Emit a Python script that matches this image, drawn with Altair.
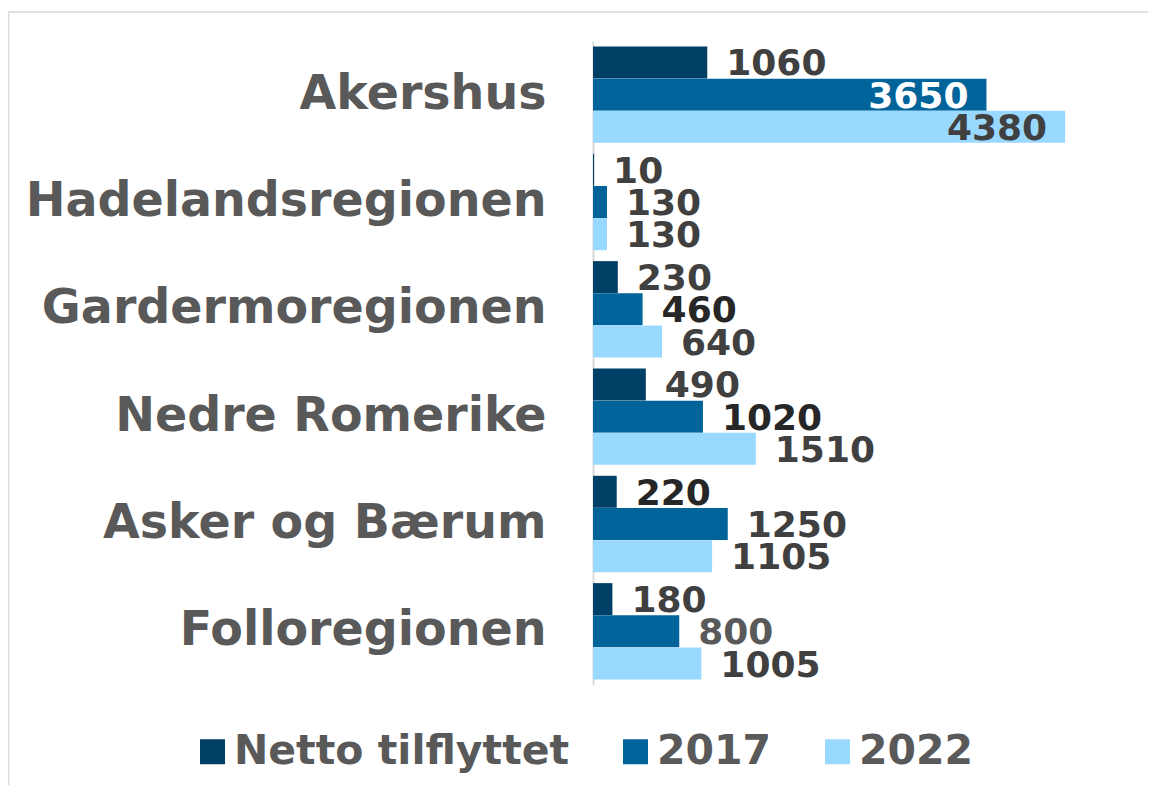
import altair as alt
import pandas as pd

categories = ["Akershus", "Hadelandsregionen", "Gardermoregionen",
              "Nedre Romerike", "Asker og Bærum", "Folloregionen"]
series = ["Netto tilflyttet", "2017", "2022"]
netto = [1060, 10, 230, 490, 220, 180]
y2017 = [3650, 130, 460, 1020, 1250, 800]
y2022 = [4380, 130, 640, 1510, 1105, 1005]

bar_colors = ["#003F66", "#00639A", "#99D9FF"]
label_colors = {
    "Netto tilflyttet": ["#404040", "#404040", "#404040", "#404040", "#262626", "#404040"],
    "2017": ["#FFFFFF", "#404040", "#262626", "#262626", "#404040", "#595959"],
    "2022": ["#404040", "#404040", "#404040", "#404040", "#404040", "#404040"],
}

rows = []
for s, vals in zip(series, [netto, y2017, y2022]):
    for c, v, lc in zip(categories, vals, label_colors[s]):
        rows.append({"region": c, "series": s, "value": v, "lc": lc})
df = pd.DataFrame(rows)

FONT = "DejaVu Sans"

y_enc = alt.Y("region:N", sort=categories,
              scale=alt.Scale(paddingInner=0.1, paddingOuter=0.05),
              axis=alt.Axis(title=None, ticks=False, labelFontSize=47.5, labelFont=FONT,
                            labelFontWeight="bold", labelColor="#595959",
                            labelPadding=47, labelLimit=1000,
                            domainColor="#D9D9D9", domainWidth=2))
yoff = alt.YOffset("series:N", sort=series)
x_enc = alt.X("value:Q", scale=alt.Scale(domain=[0, 5000], nice=False), axis=None)

base = alt.Chart(df)

bars = base.mark_bar(size=32).encode(
    x=x_enc, y=y_enc, yOffset=yoff,
    color=alt.Color("series:N", sort=series,
                    scale=alt.Scale(domain=series, range=bar_colors),
                    legend=alt.Legend(title=None, orient="none", direction="horizontal",
                                      legendX=-401, legendY=690,
                                      symbolType="square", symbolSize=625,
                                      symbolStrokeWidth=0,
                                      labelFontSize=41, labelFont=FONT,
                                      labelFontWeight="bold", labelColor="#595959",
                                      labelOffset=1, columnPadding=45,
                                      labelLimit=1000)),
)

text_common = dict(fontSize=36, font=FONT, fontWeight="bold", baseline="middle")

labels_out = base.transform_filter("datum.value < 3000").mark_text(
    align="left", dx=19, dy=2, **text_common
).encode(x=x_enc, y=y_enc, yOffset=yoff, text="value:Q",
         color=alt.Color("lc:N", scale=None))

labels_in = base.transform_filter("datum.value >= 3000").mark_text(
    align="right", dx=-18, dy=2, **text_common
).encode(x=x_enc, y=y_enc, yOffset=yoff, text="value:Q",
         color=alt.Color("lc:N", scale=None))

frame_data = alt.Data(values=[{"k": 1}])
frame_left = alt.Chart(frame_data).mark_rule(color="#D9D9D9", strokeWidth=1.5).encode(
    x=alt.value(-584.5), y=alt.value(-29), y2=alt.value(760))
frame_top = alt.Chart(frame_data).mark_rule(color="#D9D9D9", strokeWidth=1.5).encode(
    x=alt.value(-584.5), x2=alt.value(600), y=alt.value(-29))

chart = alt.layer(bars, labels_out, labels_in, frame_left, frame_top).properties(
    width=539, height=644,
    padding={"left": 585, "top": 33, "right": 16, "bottom": 100},
    autosize=alt.AutoSizeParams(type="none"),
).configure_view(stroke=None)

chart.save("out.html", embed_options={"renderer": "svg", "actions": False})
